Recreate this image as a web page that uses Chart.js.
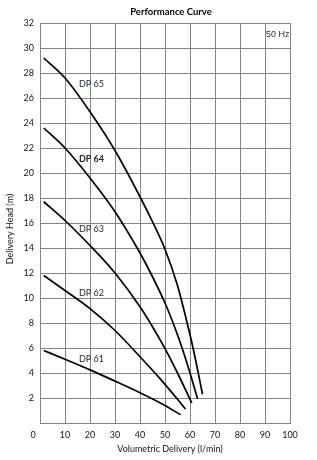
<!DOCTYPE html>
<html><head><meta charset="utf-8">
<script src="https://cdn.jsdelivr.net/npm/chart.js@4/dist/chart.umd.min.js"></script>
<style>html,body{margin:0;padding:0;background:#fff;}canvas{display:block}</style>
</head><body>
<canvas id="c" width="317" height="460"></canvas>
<script>
// ---- data ----
const xTicks = [0,10,20,30,40,50,60,70,80,90,100];
const yTicks = [0,2,4,6,8,10,12,14,16,18,20,22,24,26,28,30,32];

const dp65Flow = [1.5, 10, 20, 30, 40, 45, 50, 55, 58, 61, 63, 65];
const dp65Head = [29.2, 27.6, 24.9, 21.8, 18.1, 16.1, 13.9, 11.0, 8.7, 6.2, 4.3, 2.3];

const dp64Flow = [1.5, 10, 20, 30, 40, 45, 50, 54, 57, 60, 63];
const dp64Head = [23.6, 22.0, 19.6, 16.9, 13.6, 11.7, 9.6, 7.6, 5.9, 4.0, 1.95];

const dp63Flow = [1.5, 10, 20, 30, 40, 45, 50, 55, 60.7];
const dp63Head = [17.7, 16.2, 14.2, 12.0, 9.3, 7.7, 5.95, 4.0, 1.6];

const dp62Flow = [1.5, 10, 20, 30, 40, 48, 55, 58.2];
const dp62Head = [11.8, 10.6, 9.15, 7.4, 5.3, 3.55, 1.9, 1.12];

const dp61Flow = [1.5, 10, 20, 30, 40, 50, 56.2];
const dp61Head = [5.8, 5.1, 4.25, 3.35, 2.42, 1.4, 0.66];

const seriesNames = ['DP 65','DP 64','DP 63','DP 62','DP 61'];
const labelFlow = [15.6, 15.6, 15.6, 15.6, 15.6];
const labelHead = [27.1, 21.1, 15.5, 10.4, 5.1];
const labelBold = [false, true, false, false, false];

const chartTitle = 'Performance Curve';
const xTitle = 'Volumetric Delivery (l/min)';
const yTitle = 'Delivery Head (m)';
const freqNote = '50 Hz';

// ---- build ----
const pairs = (xs, ys) => xs.map((x, i) => ({x, y: ys[i]}));
const allSeries = [
  pairs(dp65Flow, dp65Head),
  pairs(dp64Flow, dp64Head),
  pairs(dp63Flow, dp63Head),
  pairs(dp62Flow, dp62Head),
  pairs(dp61Flow, dp61Head)
];

const FONT = "Lato, 'Open Sans', 'DejaVu Sans', sans-serif";
const gridColor = '#858585';
const textColor = '#151515';

const textPlugin = {
  id: 'texts',
  afterDraw(chart) {
    const ctx = chart.ctx;
    const xs = chart.scales.x, ys = chart.scales.y;
    ctx.save();
    ctx.fillStyle = '#000';
    ctx.textBaseline = 'middle';
    ctx.font = "bold 9.5px " + FONT;
    ctx.textAlign = 'center';
    ctx.fillText(chartTitle, 171, 12);
    ctx.font = "9px " + FONT;
    ctx.fillStyle = textColor;
    ctx.fillText(xTitle, 170, 449);
    ctx.fillText('0', 33, 435);
    ctx.save();
    ctx.translate(10, 229);
    ctx.rotate(-Math.PI / 2);
    ctx.fillText(yTitle, 0, 0);
    ctx.restore();
    ctx.textAlign = 'left';
    ctx.font = "9px 'Liberation Sans', Arial, sans-serif";
    ctx.fillStyle = '#333';
    ctx.fillText(freqNote, 266, 35);
    ctx.fillStyle = '#1b2233';
    seriesNames.forEach((n, i) => {
      ctx.font = (labelBold[i] ? 'bold ' : '') + "9px " + FONT;
      ctx.fillText(n, xs.getPixelForValue(labelFlow[i]), ys.getPixelForValue(labelHead[i]));
    });
    ctx.restore();
  }
};

new Chart(document.getElementById('c'), {
  type: 'line',
  data: {
    datasets: allSeries.map((d, i) => ({
      label: seriesNames[i],
      data: d,
      borderColor: '#000',
      borderWidth: 1.7,
      pointRadius: 0,
      fill: false,
      cubicInterpolationMode: 'monotone'
    }))
  },
  options: {
    responsive: false,
    animation: false,
    devicePixelRatio: 1,
    layout: { padding: { top: 23, right: 27, bottom: 0, left: 0 } },
    plugins: { legend: { display: false }, title: { display: false }, tooltip: { enabled: false } },
    scales: {
      x: {
        type: 'linear', min: 0, max: 100,
        afterBuildTicks: s => { s.ticks = xTicks.map(v => ({value: v})); },
        afterFit: s => { s.height = 37; },
        ticks: { callback: v => v === 0 ? '' : String(v), color: textColor, font: { family: FONT, size: 9 }, padding: 7, maxRotation: 0, autoSkip: false },
        grid: { color: gridColor, lineWidth: 1, drawTicks: false },
        border: { display: true, color: gridColor }
      },
      y: {
        type: 'linear', min: 0, max: 32,
        afterBuildTicks: s => { s.ticks = yTicks.map(v => ({value: v})); },
        afterFit: s => { s.width = 40; },
        ticks: { callback: v => v === 0 ? '' : String(v), color: textColor, font: { family: FONT, size: 9 }, padding: 6, autoSkip: false },
        grid: { color: gridColor, lineWidth: 1, drawTicks: false },
        border: { display: true, color: gridColor }
      }
    }
  },
  plugins: [textPlugin]
});
</script>
</body></html>
